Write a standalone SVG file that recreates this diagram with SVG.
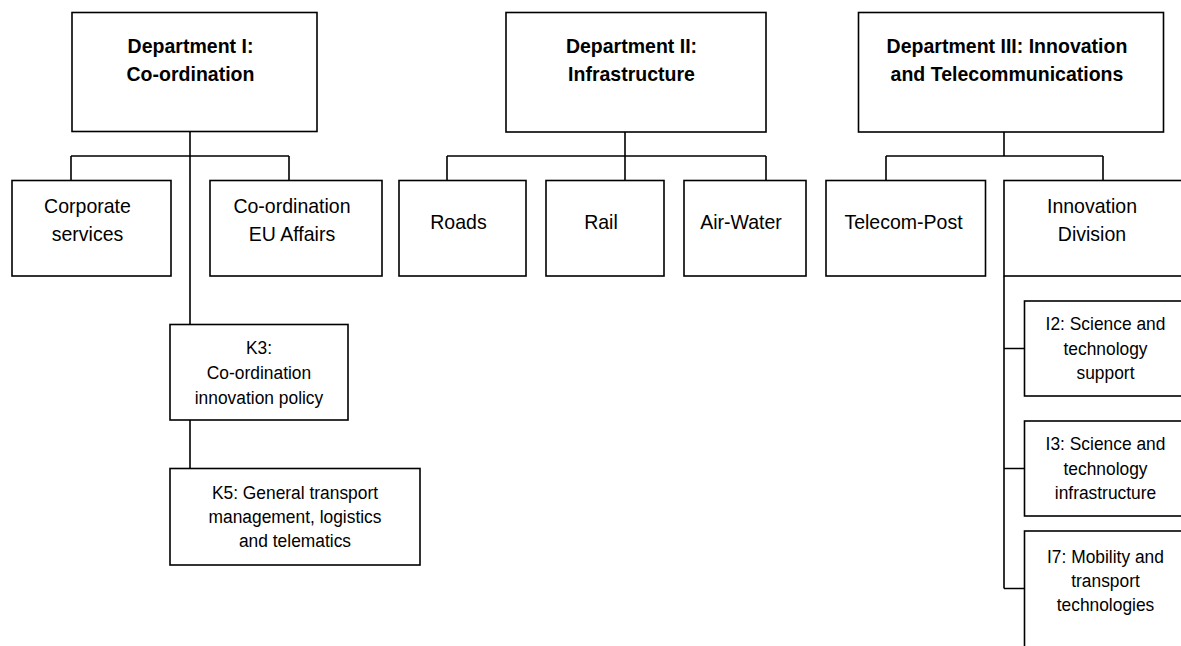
<svg xmlns="http://www.w3.org/2000/svg" width="1181" height="646" viewBox="0 0 1181 646">
<style>
.box{fill:#fff;stroke:#000;stroke-width:1.6}
.ln{fill:none;stroke:#000;stroke-width:1.6}
text{font-family:"Liberation Sans",Arial,sans-serif;fill:#000;text-anchor:middle;transform-box:fill-box;transform-origin:center;transform:scaleX(0.93)}
.h{font-size:21px;font-weight:bold}
.m{font-size:21px}
.s{font-size:18.7px}
</style>
<rect width="1181" height="646" fill="#fff"/>
<g id="connectors">
<path class="ln" d="M190,131.5V324.5M71,156H289M71,156V180.5M289,156V180.5M190,420V468.5"/>
<path class="ln" d="M625,132V180.5M447,156H766M447,156V180.5M766,156V180.5"/>
<path class="ln" d="M1004,132V156M886,156H1103M886,156V180.5M1103,156V180.5"/>
<path class="ln" d="M1004,276V588.5M1004,348.5H1024.5M1004,468.5H1024.5M1004,588.5H1024.5"/>
</g>
<g id="dept1"><rect class="box" x="72" y="12.5" width="245" height="119"/><text class="h" x="190.5" y="53">Department I:</text><text class="h" x="190.5" y="81">Co-ordination</text></g>
<g id="dept2"><rect class="box" x="506" y="12.5" width="260" height="119.5"/><text class="h" x="631.5" y="53">Department II:</text><text class="h" x="631.5" y="81">Infrastructure</text></g>
<g id="dept3"><rect class="box" x="858.5" y="12.5" width="305" height="119.5"/><text class="h" x="1007" y="53">Department III: Innovation</text><text class="h" x="1007" y="81">and Telecommunications</text></g>
<g id="corporate"><rect class="box" x="12" y="180.5" width="159" height="95.5"/><text class="m" x="87.5" y="213">Corporate</text><text class="m" x="87.5" y="241">services</text></g>
<g id="eu"><rect class="box" x="210" y="180.5" width="172" height="95.5"/><text class="m" x="292" y="213">Co-ordination</text><text class="m" x="292" y="241">EU Affairs</text></g>
<g id="roads"><rect class="box" x="399" y="180.5" width="127" height="95.5"/><text class="m" x="458.5" y="229">Roads</text></g>
<g id="rail"><rect class="box" x="546" y="180.5" width="118" height="95.5"/><text class="m" x="601" y="229">Rail</text></g>
<g id="airwater"><rect class="box" x="684" y="180.5" width="122" height="95.5"/><text class="m" x="741" y="229">Air-Water</text></g>
<g id="telecom"><rect class="box" x="826" y="180.5" width="159.5" height="95.5"/><text class="m" x="903.5" y="229">Telecom-Post</text></g>
<g id="innovation"><rect class="box" x="1004" y="180.5" width="200" height="95.5"/><text class="m" x="1092" y="213">Innovation</text><text class="m" x="1092" y="241">Division</text></g>
<g id="k3"><rect class="box" x="170" y="324.5" width="178" height="95.5"/><text class="s" x="259" y="354">K3:</text><text class="s" x="259" y="379">Co-ordination</text><text class="s" x="259" y="404">innovation policy</text></g>
<g id="k5"><rect class="box" x="170" y="468.5" width="250" height="96.5"/><text class="s" x="295" y="499">K5: General transport</text><text class="s" x="295" y="523">management, logistics</text><text class="s" x="295" y="547">and telematics</text></g>
<g id="i2"><rect class="box" x="1024.5" y="301" width="180" height="95"/><text class="s" x="1105.5" y="330">I2: Science and</text><text class="s" x="1105.5" y="355">technology</text><text class="s" x="1105.5" y="379">support</text></g>
<g id="i3"><rect class="box" x="1024.5" y="421" width="180" height="95"/><text class="s" x="1105.5" y="450">I3: Science and</text><text class="s" x="1105.5" y="475">technology</text><text class="s" x="1105.5" y="499">infrastructure</text></g>
<g id="i7"><rect class="box" x="1024.5" y="531" width="180" height="130"/><text class="s" x="1105.5" y="563">I7: Mobility and</text><text class="s" x="1105.5" y="587">transport</text><text class="s" x="1105.5" y="611">technologies</text></g>
</svg>
